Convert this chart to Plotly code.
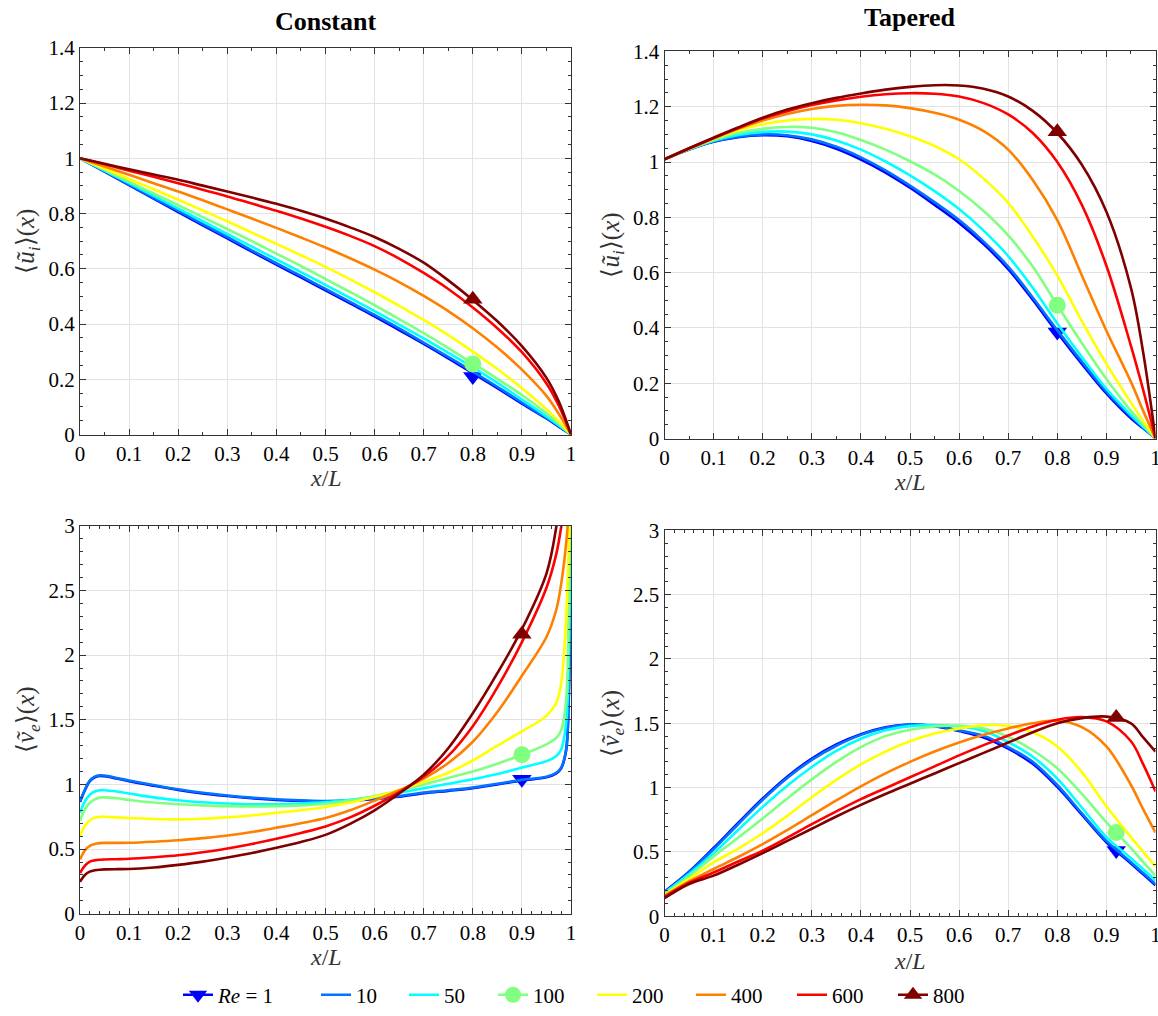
import plotly.graph_objects as go

# ---------------- data ----------------
re_labels = ["<i>Re</i> = 1", "10", "50", "100", "200", "400", "600", "800"]
colors = ["#0000ff", "#0073ff", "#00ffff", "#80ff80", "#ffff00", "#ff8000", "#ff0000", "#800000"]

# Top-left: constant, <u_i>(x)
x_tl = [0, 0.05, 0.1, 0.15, 0.2, 0.25, 0.3, 0.35, 0.4, 0.45, 0.5, 0.55, 0.6, 0.65, 0.7,
        0.75, 0.8, 0.85, 0.9, 0.95, 0.975, 1.0]
u_const = [
    [1, .952, .903, .854, .805, .757, .71, .662, .615, .569, .522, .475, .428, .378, .328, .276, .222, .168, .112, .058, .029, 0],
    [1, .953, .905, .857, .81, .762, .715, .667, .62, .574, .527, .48, .433, .384, .333, .281, .228, .173, .116, .06, .031, 0],
    [1, .955, .91, .864, .818, .772, .726, .68, .634, .588, .542, .495, .447, .398, .348, .296, .243, .187, .127, .066, .034, 0],
    [1, .958, .915, .873, .83, .787, .744, .70, .655, .61, .563, .516, .468, .418, .367, .313, .258, .202, .143, .077, .04, 0],
    [1, .963, .925, .888, .85, .811, .772, .731, .69, .649, .607, .562, .515, .466, .415, .36, .30, .237, .168, .092, .048, 0],
    [1, .97, .94, .91, .88, .848, .815, .782, .748, .713, .677, .638, .597, .552, .502, .447, .385, .315, .235, .14, .075, 0],
    [1, .978, .955, .933, .91, .886, .862, .836, .81, .782, .752, .719, .682, .637, .585, .527, .46, .385, .298, .185, .105, 0],
    [1, .98, .96, .941, .922, .901, .88, .858, .835, .81, .782, .75, .715, .672, .622, .558, .487, .41, .32, .205, .12, 0],
]

# Top-right: tapered, <u_i>(x)
x_tr = [0, 0.05, 0.1, 0.15, 0.2, 0.25, 0.3, 0.35, 0.4, 0.45, 0.5, 0.55, 0.6, 0.65, 0.7,
        0.75, 0.8, 0.85, 0.9, 0.95, 0.975, 1.0]
u_taper = [
    [1.01, 1.045, 1.073, 1.09, 1.097, 1.093, 1.076, 1.048, 1.009, .962, .907, .845, .78, .703, .613, .502, .383, .27, .163, .073, .037, 0],
    [1.01, 1.045, 1.074, 1.092, 1.10, 1.097, 1.082, 1.055, 1.017, .97, .915, .855, .79, .712, .622, .51, .392, .278, .17, .08, .04, 0],
    [1.01, 1.046, 1.077, 1.098, 1.109, 1.11, 1.10, 1.078, 1.045, 1.002, .952, .895, .83, .752, .66, .545, .416, .295, .18, .085, .042, 0],
    [1.01, 1.047, 1.08, 1.105, 1.12, 1.127, 1.124, 1.108, 1.08, 1.045, 1.003, .955, .895, .823, .735, .622, .482, .345, .215, .10, .05, 0],
    [1.01, 1.048, 1.083, 1.115, 1.137, 1.15, 1.156, 1.153, 1.14, 1.12, 1.093, 1.058, 1.01, .94, .852, .73, .59, .425, .27, .13, .063, 0],
    [1.01, 1.048, 1.085, 1.12, 1.15, 1.174, 1.192, 1.203, 1.207, 1.205, 1.195, 1.178, 1.153, 1.112, 1.045, .935, .79, .59, .39, .205, .10, 0],
    [1.01, 1.049, 1.087, 1.123, 1.157, 1.184, 1.206, 1.223, 1.236, 1.245, 1.249, 1.247, 1.237, 1.213, 1.172, 1.105, 1.0, .845, .625, .335, .175, 0],
    [1.01, 1.05, 1.088, 1.125, 1.16, 1.19, 1.213, 1.232, 1.248, 1.262, 1.272, 1.278, 1.277, 1.265, 1.237, 1.185, 1.105, .99, .82, .545, .31, 0],
]

# Bottom-left: constant, <v_e>(x)
x_bl = [0, 0.01, 0.02, 0.03, 0.04, 0.05, 0.075, 0.1, 0.15, 0.2, 0.25, 0.3, 0.35, 0.4, 0.45,
        0.5, 0.55, 0.6, 0.65, 0.7, 0.75, 0.8, 0.85, 0.9, 0.95, 0.97, 0.98, 0.99, 0.995, 1.0]
v_const = [
    [.865, .955, 1.025, 1.055, 1.065, 1.063, 1.045, 1.025, .99, .957, .93, .91, .893, .88, .872, .867, .873, .888, .905, .932, .95, .97, 1.0, 1.03, 1.055, 1.085, 1.125, 1.26, 1.6, 3.5],
    [.87, .96, 1.03, 1.06, 1.07, 1.068, 1.05, 1.03, .995, .962, .935, .915, .898, .885, .877, .872, .878, .893, .91, .937, .955, .975, 1.005, 1.035, 1.06, 1.09, 1.13, 1.27, 1.65, 3.5],
    [.78, .87, .92, .945, .955, .955, .945, .93, .90, .878, .862, .852, .847, .847, .853, .864, .882, .905, .935, .97, 1.005, 1.04, 1.08, 1.13, 1.18, 1.22, 1.27, 1.47, 1.91, 3.5],
    [.72, .807, .858, .885, .898, .90, .893, .88, .86, .847, .838, .832, .83, .832, .838, .85, .875, .91, .95, 1.0, 1.05, 1.10, 1.16, 1.23, 1.31, 1.36, 1.42, 1.65, 2.29, 3.5],
    [.60, .68, .723, .742, .749, .75, .745, .74, .733, .73, .735, .745, .76, .78, .80, .825, .86, .905, .955, 1.02, 1.09, 1.185, 1.30, 1.41, 1.53, 1.63, 1.78, 2.29, 2.8, 3.5],
    [.42, .49, .525, .54, .546, .548, .548, .549, .557, .568, .585, .605, .632, .665, .70, .74, .80, .875, .955, 1.045, 1.165, 1.33, 1.56, 1.84, 2.14, 2.35, 2.55, 2.86, 3.1, 3.5],
    [.315, .372, .403, .413, .418, .42, .422, .425, .437, .452, .475, .505, .54, .58, .625, .675, .745, .835, .94, 1.06, 1.22, 1.45, 1.75, 2.10, 2.52, 2.78, 2.99, 3.3, 3.5, 4.0],
    [.248, .30, .326, .336, .341, .343, .345, .346, .358, .378, .403, .435, .47, .51, .555, .61, .695, .80, .93, 1.075, 1.28, 1.55, 1.86, 2.2, 2.63, 2.99, 3.3, 3.6, 3.8, 4.0],
]

# Bottom-right: tapered, <v_e>(x)
x_br = [0, 0.05, 0.1, 0.15, 0.2, 0.25, 0.3, 0.35, 0.4, 0.45, 0.5, 0.55, 0.6, 0.65, 0.7,
        0.75, 0.8, 0.85, 0.9, 0.95, 0.975, 1.0]
v_taper = [
    [.19, .345, .53, .725, .915, 1.085, 1.225, 1.335, 1.415, 1.468, 1.49, 1.478, 1.44, 1.39, 1.303, 1.185, 1.005, .79, .575, .41, .325, .24],
    [.185, .34, .52, .715, .905, 1.075, 1.215, 1.325, 1.41, 1.465, 1.49, 1.48, 1.445, 1.402, 1.315, 1.2, 1.02, .80, .585, .42, .335, .25],
    [.18, .327, .49, .67, .85, 1.015, 1.16, 1.285, 1.38, 1.445, 1.478, 1.487, 1.475, 1.44, 1.354, 1.24, 1.07, .845, .615, .45, .365, .277],
    [.17, .31, .465, .61, .76, .915, 1.064, 1.2, 1.315, 1.40, 1.45, 1.476, 1.482, 1.46, 1.395, 1.29, 1.15, .95, .73, .53, .42, .315],
    [.165, .29, .418, .525, .645, .78, .925, 1.06, 1.18, 1.28, 1.36, 1.42, 1.46, 1.485, 1.48, 1.43, 1.32, 1.12, .855, .615, .50, .385],
    [.16, .27, .367, .46, .56, .67, .785, .90, 1.01, 1.11, 1.2, 1.28, 1.35, 1.41, 1.46, 1.5, 1.52, 1.47, 1.32, 1.02, .83, .65],
    [.15, .26, .34, .425, .51, .61, .715, .815, .91, .995, 1.08, 1.165, 1.25, 1.33, 1.405, 1.475, 1.527, 1.548, 1.515, 1.36, 1.18, .97],
    [.14, .25, .315, .40, .49, .585, .68, .775, .865, .95, 1.03, 1.11, 1.19, 1.27, 1.35, 1.43, 1.5, 1.54, 1.552, 1.5, 1.39, 1.28],
]

# Marker points (series index -> (x, y)) for Re = 1, 100, 800
marker_symbols = {0: "triangle-down", 3: "circle", 7: "triangle-up"}
markers_tl = {0: (0.8, 0.21), 3: (0.8, 0.255), 7: (0.8, 0.49)}
markers_tr = {0: (0.8, 0.385), 3: (0.8, 0.482), 7: (0.8, 1.11)}
markers_bl = {0: (0.9, 1.04), 3: (0.9, 1.23), 7: (0.9, 2.16)}
markers_br = {0: (0.92, 0.51), 3: (0.92, 0.65), 7: (0.92, 1.545)}

# legend entry widths (text part, px)
legend_widths = [93, 43, 44, 54, 54, 56, 56, 46]

# ---------------- figure ----------------
SERIF = "Liberation Serif"
W, H = 1158, 1016
fig = go.Figure()

panels = [
    ("x", "y", x_tl, u_const, markers_tl),
    ("x2", "y2", x_tr, u_taper, markers_tr),
    ("x3", "y3", x_bl, v_const, markers_bl),
    ("x4", "y4", x_br, v_taper, markers_br),
]

LW = 2.6
for xa, ya, xs, series, mk in panels:
    for i, ys in enumerate(series):
        fig.add_trace(go.Scatter(
            x=xs, y=ys, mode="lines", xaxis=xa, yaxis=ya,
            line=dict(color=colors[i], width=LW, shape="spline", smoothing=1.0),
            showlegend=False, hoverinfo="skip"))
        if i in mk:
            px_, py_ = mk[i]
            fig.add_trace(go.Scatter(
                x=[px_], y=[py_], mode="markers", xaxis=xa, yaxis=ya,
                marker=dict(symbol=marker_symbols[i], size=17,
                            color=colors[i], line=dict(width=0)),
                showlegend=False, hoverinfo="skip", cliponaxis=False))

# legend-only traces
for i, name in enumerate(re_labels):
    if i in marker_symbols:
        fig.add_trace(go.Scatter(
            x=[None], y=[None], mode="lines+markers", name=name,
            legendwidth=legend_widths[i],
            line=dict(color=colors[i], width=LW),
            marker=dict(symbol=marker_symbols[i], size=16, color=colors[i])))
    else:
        fig.add_trace(go.Scatter(
            x=[None], y=[None], mode="lines", name=name,
            legendwidth=legend_widths[i],
            line=dict(color=colors[i], width=LW)))


def px_dom_x(a, b):
    return [a / W, b / W]


def px_dom_y(top, bottom):
    return [1 - bottom / H, 1 - top / H]


tickfont = dict(family=SERIF, size=21, color="black")
xtitlefont = dict(family=SERIF, size=24, color="#333")
ytitlefont = dict(family=SERIF, size=25, color="#333")


def xax(domain, anchor, minor_dtick):
    return dict(domain=domain, anchor=anchor, range=[0, 1], dtick=0.1, tick0=0,
                ticks="inside", ticklen=6, tickwidth=1, tickcolor="#333",
                showline=True, linecolor="#333", linewidth=1, mirror="allticks",
                showgrid=True, gridcolor="#e3e3e3", gridwidth=1, zeroline=False,
                minor=dict(ticks="inside", ticklen=3, dtick=minor_dtick, tick0=0,
                           tickcolor="#333", showgrid=False),
                tickfont=tickfont, automargin=False, ticklabeloverflow="allow")


def yax(domain, anchor, rng, dtick, minor_dtick, title):
    return dict(domain=domain, anchor=anchor, range=rng, dtick=dtick, tick0=0,
                ticks="inside", ticklen=6, tickwidth=1, tickcolor="#333",
                showline=True, linecolor="#333", linewidth=1, mirror="allticks",
                showgrid=True, gridcolor="#e3e3e3", gridwidth=1, zeroline=False,
                minor=dict(ticks="inside", ticklen=3, dtick=minor_dtick, tick0=0,
                           tickcolor="#333", showgrid=False),
                tickfont=tickfont, automargin=False, ticklabeloverflow="allow",
                title=dict(text=title, font=ytitlefont, standoff=6))


u_title = "⟨<i>ũ</i><sub><i>i</i></sub>⟩(<i>x</i>)"
v_title = "⟨<i>ṽ</i><sub><i>e</i></sub>⟩(<i>x</i>)"
x_title = "<i>x</i>/<i>L</i>"

annotations = [
    dict(text="<b>Constant</b>", x=325.5 / W, y=1 - 22 / H, xref="paper", yref="paper",
         showarrow=False, font=dict(family=SERIF, size=26, color="black"),
         xanchor="center", yanchor="middle"),
    dict(text="<b>Tapered</b>", x=910 / W, y=1 - 18 / H, xref="paper", yref="paper",
         showarrow=False, font=dict(family=SERIF, size=26, color="black"),
         xanchor="center", yanchor="middle"),
]
for cx, cy in [(325.5, 480), (910, 484), (325.5, 962), (910, 966)]:
    annotations.append(dict(text=x_title, x=cx / W, y=1 - cy / H, xref="paper", yref="paper",
                            showarrow=False, font=xtitlefont,
                            xanchor="center", yanchor="middle"))

fig.update_layout(
    width=W, height=H,
    margin=dict(l=0, r=0, t=0, b=0),
    paper_bgcolor="white", plot_bgcolor="white",
    template="none",
    font=dict(family=SERIF, color="black"),
    xaxis=xax(px_dom_x(80, 571), "y", 0.05),
    yaxis=yax(px_dom_y(48, 436.7), "x", [0, 1.4], 0.2, 0.05, u_title),
    xaxis2=xax(px_dom_x(664.5, 1155.5), "y2", 0.05),
    yaxis2=yax(px_dom_y(51.7, 440.7), "x2", [0, 1.4], 0.2, 0.05, u_title),
    xaxis3=xax(px_dom_x(80, 571), "y3", 0.02),
    yaxis3=yax(px_dom_y(528.3, 918.3), "x3", [0, 3], 0.5, 0.1, v_title),
    xaxis4=xax(px_dom_x(664.5, 1155.5), "y4", 0.02),
    yaxis4=yax(px_dom_y(533, 920.7), "x4", [0, 3], 0.5, 0.1, v_title),
    legend=dict(orientation="h", x=178 / W, xanchor="left", y=1 - 1000 / H, yanchor="middle",
                font=dict(family=SERIF, size=21, color="black"),
                bgcolor="rgba(255,255,255,0)", itemwidth=30, tracegroupgap=0),
    showlegend=True,
    annotations=annotations,
)

fig.write_html("out.html",
               config={"displayModeBar": False},
               post_script="document.body.style.margin='0px';"
                           "document.body.style.overflow='hidden';")
